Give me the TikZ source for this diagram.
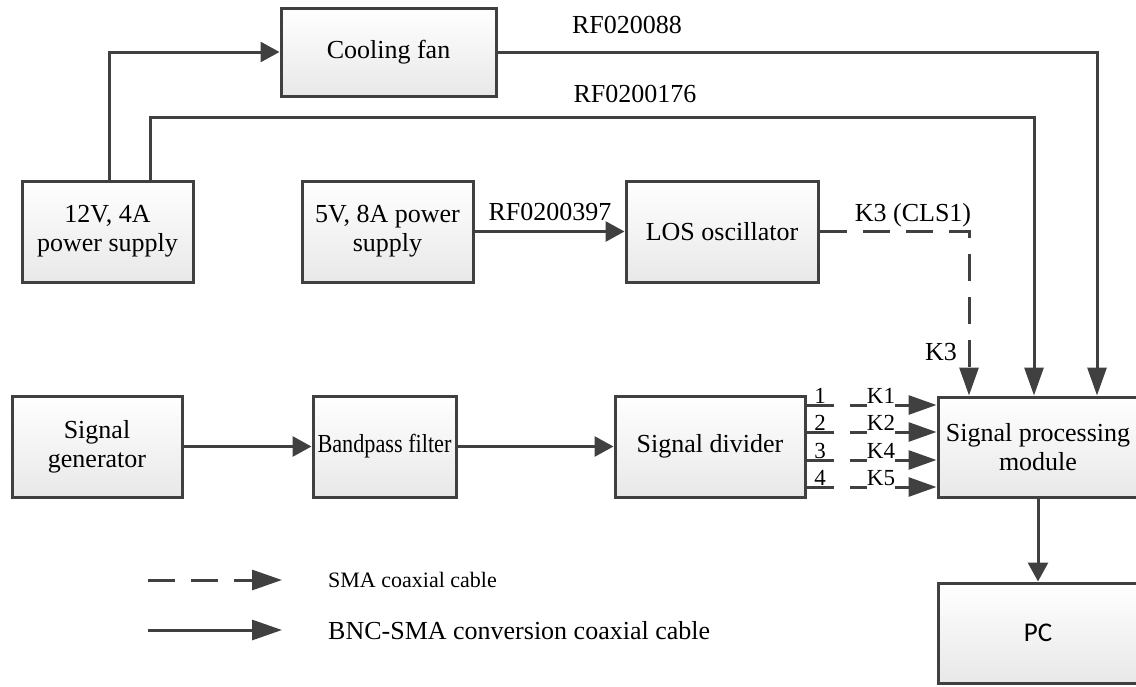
\documentclass[tikz,border=0pt]{standalone}
\usepackage{fontspec}
\usepackage{graphicx}
\setmainfont{Liberation Serif}
\newfontfamily\pcfont{Carlito}
\usetikzlibrary{arrows.meta,calc}
\definecolor{ln}{HTML}{404040}
\definecolor{boxbot}{HTML}{E8E8E8}
\begin{document}
\begin{tikzpicture}[x=1pt,y=-1pt,
  font=\fontsize{26pt}{29pt}\selectfont,
  box/.style={draw=ln, line width=3pt, top color=white, bottom color=boxbot, inner sep=0pt, align=center},
  conn/.style={draw=ln, line width=3pt},
  sa/.style={-{Triangle[length=19pt,width=20pt]}},
  la/.style={-{Triangle[length=28pt,width=19pt]}},
  lga/.style={-{Triangle[length=30pt,width=20pt]}},
  dsh/.style={dash pattern=on 27pt off 16pt},
  lbl/.style={inner sep=0pt, anchor=base},
  klbl/.style={font=\fontsize{23pt}{26pt}\selectfont, inner sep=0pt, anchor=base},
  lgt/.style={anchor=west, inner sep=0pt},
]
\useasboundingbox (0,0) rectangle (1136,686);
\clip (0,0) rectangle (1136,686);

% boxes
\node[box, minimum width=215pt, minimum height=88pt] (fan) at (388.5,52) {Cooling fan};
\node[box, minimum width=171pt, minimum height=101pt] (p12) at (107.5,231.5) {12V, 4A\\power supply};
\node[box, minimum width=171pt, minimum height=101pt] (p5) at (387.5,231.5) {5V, 8A power\\supply};
\node[box, minimum width=192pt, minimum height=101pt] (los) at (722,231.5) {LOS oscillator};
\node[box, minimum width=170pt, minimum height=101pt] (gen) at (97,446.5) {Signal\\generator};
\node[box, minimum width=143pt, minimum height=101pt] (bpf) at (384.5,446.5) {\scalebox{0.855}[1]{Bandpass filter}};
\node[box, minimum width=190pt, minimum height=101pt] (div) at (710,446.5) {Signal divider};
\node[box, minimum width=200pt, minimum height=100pt] (spm) at (1038,447) {Signal processing\\module};
\node[box, minimum width=200pt, minimum height=100pt, font=\fontsize{27pt}{30pt}\selectfont\pcfont] (pc) at (1038,633) {PC};

% connectors
\coordinate (a1) at (109,52);
\draw[conn,sa] (p12.north -| a1) -- (a1) -- (fan.west);
\coordinate (b1) at (150,117);
\coordinate (b2) at (1034,117);
\draw[conn,la] (p12.north -| b1) -- (b1) -- (b2) -- (spm.north -| b2);
\coordinate (c1) at (1097,52);
\draw[conn,la] (fan.east) -- (c1) -- (spm.north -| c1);
\draw[conn,sa] (p5.east) -- (los.west);
\coordinate (d1) at (969,231.5);
\draw[conn,dsh,la] (los.east) -- (d1) -- (spm.north -| d1);
\draw[conn,sa] (gen.east) -- (bpf.west);
\draw[conn,sa] (bpf.east) -- (div.west);
\draw[conn,sa] (spm.south) -- (pc.north);

\foreach \y/\n/\k in {405/1/K1, 432/2/K2, 460/3/K4, 487/4/K5} {
  \draw[conn,dsh,la] (div.east |- 0,\y) -- (spm.west |- 0,\y);
  \node[klbl] (n\n) at (820,\y-2) {\n};
  \node[klbl, fill=white, text depth=5pt] (k\n) at (881,\y-2) {\k};
}

% labels
\node[lbl] (l1) at (627,33) {RF020088};
\node[lbl] (l2) at (635,102) {RF0200176};
\node[lbl] (l3) at (550,220) {RF0200397};
\node[lbl] (l4) at (913,221) {K3 (CLS1)};
\node[lbl] (l5) at (941,360) {K3};

% legend
\coordinate (ld1) at (148,580);
\coordinate (ld2) at (282,580);
\draw[conn,dsh,lga] (ld1) -- (ld2);
\coordinate (ls1) at (148,630);
\coordinate (ls2) at (282,630);
\draw[conn,lga] (ls1) -- (ls2);
\node[lgt, font=\fontsize{22pt}{26pt}\selectfont] (lt1) at (328,580) {SMA coaxial cable};
\node[lgt, font=\fontsize{26pt}{29pt}\selectfont] (lt2) at (328,631) {BNC-SMA conversion coaxial cable};
\end{tikzpicture}
\end{document}
